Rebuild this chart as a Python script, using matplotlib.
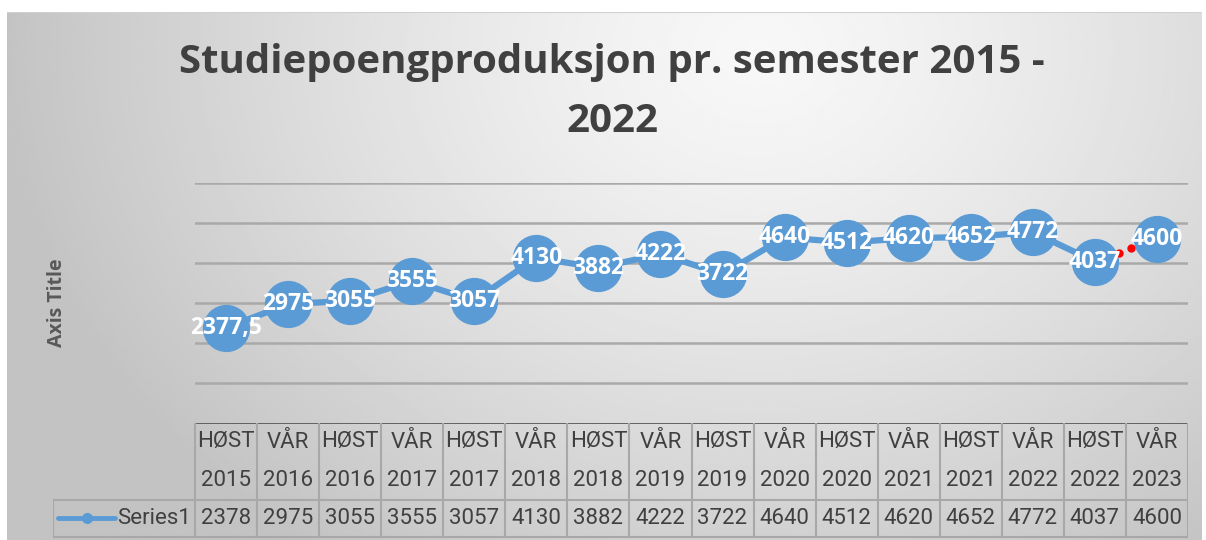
import numpy as np
import matplotlib.pyplot as plt
from matplotlib import font_manager

# data
seasons = ['HØST', 'VÅR', 'HØST', 'VÅR', 'HØST', 'VÅR', 'HØST', 'VÅR',
           'HØST', 'VÅR', 'HØST', 'VÅR', 'HØST', 'VÅR', 'HØST', 'VÅR']
years = ['2015', '2016', '2016', '2017', '2017', '2018', '2018', '2019',
         '2019', '2020', '2020', '2021', '2021', '2022', '2022', '2023']
values = [2377.5, 2975, 3055, 3555, 3057, 4130, 3882, 4222,
          3722, 4640, 4512, 4620, 4652, 4772, 4037, 4600]
gap_dots = [0.39, 0.585]   # red dots along the missing last segment

W, H = 1206, 540
BLUE = '#5b9bd5'
TXT = '#404040'

names = {f.name for f in font_manager.fontManager.ttflist}
narrow = 'Liberation Sans Narrow' if 'Liberation Sans Narrow' in names else 'Roboto'


def fmt(v):
    if float(v).is_integer():
        return str(int(v))
    return str(v).replace('.', ',')


fig = plt.figure(figsize=(W / 100, H / 100), dpi=100)

# background: radial grey gradient like the Excel chart area
bg = fig.add_axes([7 / W, 0, (1202 - 7) / W, (H - 12) / H])
gx, gy = np.meshgrid(np.linspace(7, 1202, 400), np.linspace(12, 540, 200))
r = np.sqrt(((gx - 760) / 760) ** 2 + ((gy - 50) / 620) ** 2)
r = np.clip(r, 0, 1)
shade = 0.97 - (0.97 - 0.765) * r ** 1.3
bg.imshow(shade, cmap='gray', vmin=0, vmax=1, aspect='auto',
          extent=[0, 1, 0, 1], origin='upper')
bg.set_xlim(0, 1)
bg.set_ylim(0, 1)
bg.axis('off')
bg.plot([0, 1], [1, 1], color='#d0d0d0', lw=1.5)

# plot area
left, right, top, bottom = 195, 1188, 183, 423
ax = fig.add_axes([left / W, (H - bottom) / H, (right - left) / W, (bottom - top) / H])
ax.patch.set_alpha(0)
x = np.arange(len(values))
ax.set_xlim(-0.5, len(values) - 0.5)
ax.set_ylim(0, 6000)
for s in ax.spines.values():
    s.set_visible(False)
ax.set_xticks([])
ax.set_yticks(np.arange(1000, 6001, 1000))
ax.set_yticklabels([])
ax.tick_params(length=0)
ax.grid(axis='y', color='#a9a9a9', lw=1.8)
ax.set_axisbelow(True)

ax.plot(x[:-1], values[:-1], color=BLUE, lw=4.5, marker='o', ms=33,
        mfc=BLUE, mec=BLUE, zorder=3, solid_capstyle='round')
ax.plot(x[-1:], values[-1:], color=BLUE, marker='o', ms=33, mfc=BLUE,
        mec=BLUE, ls='none', zorder=3)
for f in gap_dots:
    ax.plot(x[-2] + f, values[-2] + f * (values[-1] - values[-2]), 'o',
            color='#ff0000', ms=5, zorder=4)
for xi, v in zip(x, values):
    ax.text(xi, v, fmt(v), ha='center', va='center', color='white',
            fontsize=16.5, fontweight='bold', family='Open Sans', zorder=5)

# title and axis title
fig.text(612 / W, 1 - 62 / H, 'Studiepoengproduksjon pr. semester 2015 -',
         ha='center', va='center', fontsize=29, fontweight='bold', color=TXT,
         family='Open Sans')
fig.text(612 / W, 1 - 121 / H, '2022', ha='center', va='center',
         fontsize=29, fontweight='bold', color=TXT, family='Open Sans')
fig.text(57 / W, 1 - 303 / H, 'Axis Title', rotation=90, ha='center',
         va='center', fontsize=14, fontweight='bold', color='#595959',
         family='Open Sans')

# data table below the plot
colw = (right - left) / len(values)
tab = fig.add_axes([53 / W, 0, (right - 53) / W, (H - bottom) / H])
tab.patch.set_alpha(0)
tab.axis('off')
x0 = -0.5 - (left - 53) / colw
tab.set_xlim(x0, len(values) - 0.5)
tab.set_ylim(H - bottom, 0)
grid_c = '#a8a8a8'
tab.plot([-0.5, len(values) - 0.5], [0, 0], color='#595959', lw=1.3)
tab.plot([x0, len(values) - 0.5], [77, 77], color=grid_c, lw=1.5)
tab.plot([x0, len(values) - 0.5], [114, 114], color=grid_c, lw=1.5)
tab.plot([x0, x0], [77, 114], color=grid_c, lw=1.5)
for b in np.arange(len(values) + 1) - 0.5:
    tab.plot([b, b], [0, 114], color=grid_c, lw=1.5)
for xi, s, yr, v in zip(x, seasons, years, values):
    tab.text(xi, 19, s, ha='center', va='center', fontsize=16,
             color=TXT, family=narrow)
    tab.text(xi, 57, yr, ha='center', va='center', fontsize=16,
             color=TXT, family=narrow)
    tab.text(xi, 95, str(int(round(v + 0.01))), ha='center', va='center',
             fontsize=16, color=TXT, family=narrow)
lx = x0 + np.array([5, 34, 62]) / colw
tab.plot([lx[0], lx[2]], [95, 95], color=BLUE, lw=3.5, solid_capstyle='round')
tab.plot(lx[1], 95, 'o', color=BLUE, ms=7)
tab.text(-0.5 - 4 / colw, 95, 'Series1', ha='right', va='center',
         fontsize=16, color=TXT, family=narrow)

fig.savefig('out.png', dpi=100)
